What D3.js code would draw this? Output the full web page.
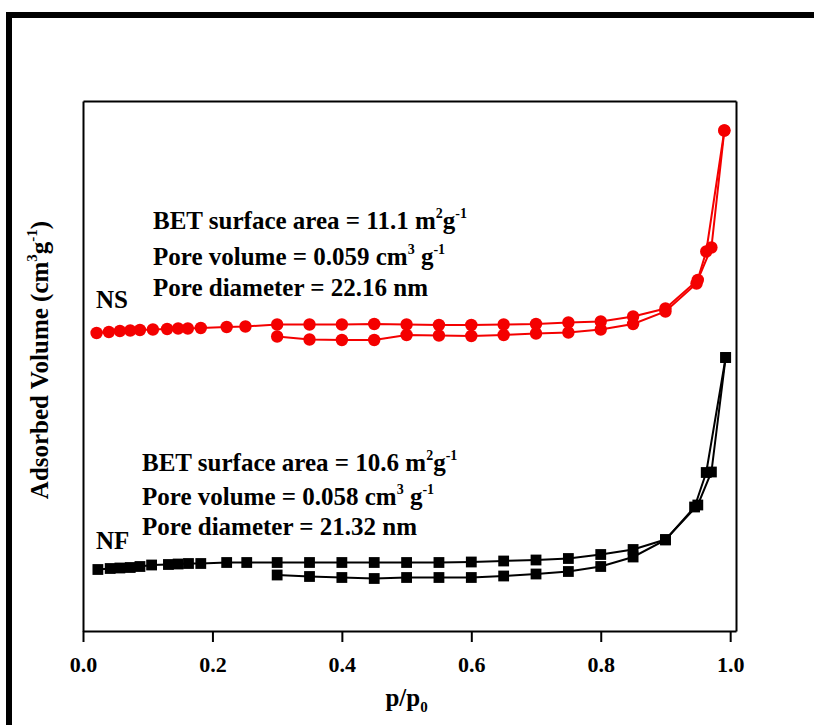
<!DOCTYPE html>
<html>
<head>
<meta charset="utf-8">
<script src="https://cdn.jsdelivr.net/npm/d3@7"></script>
<style>
  html, body { margin: 0; padding: 0; background: #fff; }
  svg { display: block; }
  text { font-family: "Liberation Serif", "Times New Roman", serif; font-weight: bold; fill: #000; }
</style>
</head>
<body>
<svg id="chart" width="814" height="725"></svg>
<script>
// Relative pressure p/p0 and adsorbed volume (arbitrary offset units) for each branch
const nsAdsP = [0.021,0.040,0.057,0.073,0.088,0.108,0.130,0.147,0.162,0.182,0.222,0.251,0.30,0.35,0.40,0.45,0.50,0.55,0.60,0.65,0.70,0.75,0.80,0.85,0.90,0.95,0.971,0.991];
const nsAdsV = [59.0,59.2,59.4,59.5,59.6,59.7,59.8,59.9,59.9,60.0,60.2,60.3,60.7,60.7,60.7,60.8,60.7,60.6,60.6,60.7,60.8,61.1,61.3,62.3,63.9,69.6,76.1,99.5];
const nsDesP = [0.991,0.963,0.948,0.90,0.85,0.80,0.75,0.70,0.65,0.60,0.55,0.50,0.45,0.40,0.35,0.30];
const nsDesV = [99.5,75.3,68.9,63.3,60.8,59.7,59.1,58.9,58.6,58.4,58.5,58.6,57.6,57.6,57.7,58.3];

const nfAdsP = [0.023,0.042,0.057,0.073,0.088,0.106,0.132,0.147,0.163,0.182,0.222,0.253,0.30,0.35,0.40,0.45,0.50,0.55,0.60,0.65,0.70,0.75,0.80,0.85,0.90,0.95,0.971,0.993];
const nfAdsV = [11.7,11.9,12.0,12.1,12.3,12.6,12.7,12.8,12.9,12.9,13.1,13.1,13.1,13.1,13.1,13.1,13.1,13.1,13.2,13.4,13.6,13.9,14.7,15.7,17.7,24.6,31.2,54.1];
const nfDesP = [0.993,0.963,0.945,0.90,0.85,0.80,0.75,0.70,0.65,0.60,0.55,0.50,0.45,0.40,0.35,0.30];
const nfDesV = [54.1,31.1,24.2,17.6,14.2,12.3,11.3,10.8,10.4,10.1,10.1,10.1,9.9,10.1,10.3,10.6];

const xTicks = [0.0, 0.2, 0.4, 0.6, 0.8, 1.0];

const nsLines = [
  [{t:"BET surface area = 11.1 m"},{t:"2",sup:true},{t:"g"},{t:"-1",sup:true}],
  [{t:"Pore volume = 0.059 cm"},{t:"3",sup:true},{t:" g"},{t:"-1",sup:true}],
  [{t:"Pore diameter = 22.16 nm"}]
];
const nfLines = [
  [{t:"BET surface area = 10.6 m"},{t:"2",sup:true},{t:"g"},{t:"-1",sup:true}],
  [{t:"Pore volume = 0.058 cm"},{t:"3",sup:true},{t:" g"},{t:"-1",sup:true}],
  [{t:"Pore diameter = 21.32 nm"}]
];

const svg = d3.select("#chart");

// outer frame
svg.append("rect")
  .attr("x", 9).attr("y", 15).attr("width", 900).attr("height", 900)
  .attr("fill", "none").attr("stroke", "#000").attr("stroke-width", 6);

const plotL = 83, plotR = 736, plotT = 101, plotB = 631;
const x = d3.scaleLinear().domain([0, 1.009]).range([plotL, plotR]);
const y = d3.scaleLinear().domain([-0.6, 105.4]).range([plotB, plotT]);

// axes box
const axisStyle = g => {
  g.select(".domain").attr("stroke", "#000").attr("stroke-width", 2);
  g.selectAll(".tick line").attr("stroke", "#000").attr("stroke-width", 2);
};
svg.append("g").attr("transform", `translate(0,${plotT})`)
  .call(d3.axisTop(x).tickValues([]).tickSizeOuter(0)).call(axisStyle);
svg.append("g").attr("transform", `translate(${plotL},0)`)
  .call(d3.axisLeft(y).tickValues([]).tickSizeOuter(0)).call(axisStyle);
svg.append("g").attr("transform", `translate(${plotR},0)`)
  .call(d3.axisRight(y).tickValues([]).tickSizeOuter(0)).call(axisStyle);
const xAxis = svg.append("g").attr("transform", `translate(0,${plotB})`)
  .call(d3.axisBottom(x).tickValues(xTicks).tickFormat(d3.format(".1f")).tickSize(11).tickSizeOuter(0).tickPadding(14))
  .call(axisStyle);
xAxis.selectAll(".tick text")
  .style("font-family", '"Liberation Serif", serif').style("font-weight", "bold")
  .style("font-size", "22px").attr("fill", "#000");

// axis titles
const xt = svg.append("text").attr("x", x(0.5)).attr("y", 706)
  .attr("text-anchor", "middle").style("font-size", "25px");
xt.append("tspan").text("p/p");
xt.append("tspan").text("0").style("font-size", "15px").attr("dy", 6);

const yt = svg.append("text")
  .attr("transform", `translate(48,${(plotT + plotB) / 2 - 6}) rotate(-90)`)
  .attr("text-anchor", "middle").style("font-size", "25px");
yt.append("tspan").text("Adsorbed Volume (cm");
yt.append("tspan").text("3").style("font-size", "15px").attr("dy", -11);
yt.append("tspan").text("g").attr("dy", 11);
yt.append("tspan").text("-1").style("font-size", "15px").attr("dy", -11);
yt.append("tspan").text(")").attr("dy", 11);

// isotherm branches
const line = d3.line().x(d => x(d[0])).y(d => y(d[1]));
const zip = (a, b) => a.map((v, i) => [v, b[i]]);

function drawSeries(pairs, color, shape) {
  const g = svg.append("g");
  g.append("path").datum(pairs).attr("d", line)
    .attr("fill", "none").attr("stroke", color).attr("stroke-width", 2);
  if (shape === "circle") {
    g.selectAll("circle").data(pairs).join("circle")
      .attr("cx", d => x(d[0])).attr("cy", d => y(d[1])).attr("r", 6.2)
      .attr("fill", color);
  } else {
    const s = 10.8;
    g.selectAll("rect").data(pairs).join("rect")
      .attr("x", d => x(d[0]) - s / 2).attr("y", d => y(d[1]) - s / 2)
      .attr("width", s).attr("height", s).attr("fill", color);
  }
}
const red = "#f40000";
drawSeries(zip(nsAdsP, nsAdsV), red, "circle");
drawSeries(zip(nsDesP, nsDesV), red, "circle");
drawSeries(zip(nfAdsP, nfAdsV), "#000", "square");
drawSeries(zip(nfDesP, nfDesV), "#000", "square");

// annotation blocks
function textBlock(lines, x0, baselines) {
  lines.forEach((parts, i) => {
    const t = svg.append("text").attr("x", x0).attr("y", baselines[i]).style("font-size", "25px");
    let raised = false;
    parts.forEach(p => {
      const ts = t.append("tspan").text(p.t);
      if (p.sup && !raised) { ts.attr("dy", -11).style("font-size", "14px"); raised = true; }
      else if (p.sup) { ts.style("font-size", "14px"); }
      else if (raised) { ts.attr("dy", 11); raised = false; }
    });
  });
}
textBlock(nsLines, 153, [229, 265, 296]);
textBlock(nfLines, 142, [471, 505, 535]);

svg.append("text").attr("x", 96).attr("y", 308).style("font-size", "25px").text("NS");
svg.append("text").attr("x", 96).attr("y", 549).style("font-size", "25px").text("NF");
</script>
</body>
</html>
